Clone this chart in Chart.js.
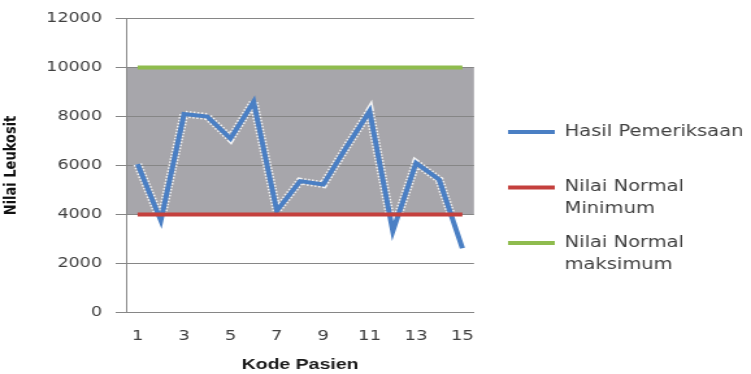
<!DOCTYPE html>
<html>
<head>
<meta charset="utf-8">
<script src="https://cdn.jsdelivr.net/npm/chart.js@4/dist/chart.umd.min.js"></script>
<style>
  html, body { margin: 0; padding: 0; background: #ffffff; }
</style>
</head>
<body>
<!-- drawn at a narrower size and widened to the page width -->
<canvas id="c" width="578" height="374" style="display:block;width:751px;height:374px;"></canvas>
<script>
// Kode pasien (x-axis categories)
const patientCodes = ['1', '2', '3', '4', '5', '6', '7', '8', '9', '10', '11', '12', '13', '14', '15'];

// Hasil pemeriksaan leukosit per pasien
const hasilPemeriksaan = [6050, 3750, 8100, 8000, 7100, 8600, 4150, 5360, 5220, 6750, 8220, 3320, 6100, 5420, 2620];

// Batas nilai normal
const nilaiNormalMin = [4000, 4000, 4000, 4000, 4000, 4000, 4000, 4000, 4000, 4000, 4000, 4000, 4000, 4000, 4000];
const nilaiNormalMax = [10000, 10000, 10000, 10000, 10000, 10000, 10000, 10000, 10000, 10000, 10000, 10000, 10000, 10000, 10000];

// Y-axis range and tick step
const yMin = 0;
const yMax = 12000;
const yStep = 2000;

const TEXT = '#404040';
const GRID = '#868686';
const LEGEND_WIDTH = 193.2;

// Shaded band between the normal minimum and maximum
const normalBand = {
  id: 'normalBand',
  beforeDraw(chart) {
    const { ctx, chartArea: a, scales: { y } } = chart;
    const top = y.getPixelForValue(nilaiNormalMax[0]);
    const bottom = y.getPixelForValue(nilaiNormalMin[0]);
    ctx.save();
    ctx.fillStyle = '#a7a6ab';
    ctx.fillRect(a.left, top, a.right - a.left, bottom - top);
    ctx.restore();
  }
};

// Let the right-hand legend column take its full width
const wideLegend = {
  id: 'wideLegend',
  beforeLayout(chart) {
    const lg = chart.legend;
    if (lg && !lg._wideFit) {
      const fit = lg.fit;
      lg.fit = function () {
        fit.call(this);
        this.width = LEGEND_WIDTH;
      };
      lg._wideFit = true;
    }
  }
};

const lineBase = { pointRadius: 0, pointHoverRadius: 0, tension: 0, fill: false };

new Chart(document.getElementById('c'), {
  type: 'line',
  data: {
    labels: patientCodes,
    datasets: [
      Object.assign({}, lineBase, {
        label: ['Hasil Pemeriksaan', ''],
        data: hasilPemeriksaan,
        borderColor: '#4a7fc4',
        backgroundColor: '#4a7fc4',
        borderWidth: 4,
        order: 3
      }),
      Object.assign({}, lineBase, {
        label: ['Nilai Normal', 'Minimum'],
        data: nilaiNormalMin,
        borderColor: '#c4403d',
        backgroundColor: '#c4403d',
        borderWidth: 4,
        order: 1
      }),
      Object.assign({}, lineBase, {
        label: ['Nilai Normal', 'maksimum'],
        data: nilaiNormalMax,
        borderColor: '#8fbc4e',
        backgroundColor: '#8fbc4e',
        borderWidth: 4,
        order: 2
      }),
      // light dotted edge under the result line
      Object.assign({}, lineBase, {
        label: '',
        data: hasilPemeriksaan,
        borderColor: 'rgba(255,255,255,0.85)',
        backgroundColor: 'rgba(255,255,255,0.85)',
        borderWidth: 7,
        borderDash: [1.5, 1.5],
        order: 4
      })
    ]
  },
  options: {
    responsive: false,
    animation: false,
    devicePixelRatio: 1,
    events: [],
    layout: { padding: { left: 0, top: 17.5, right: 5.3, bottom: 0 } },
    scales: {
      x: {
        type: 'category',
        offset: true,
        grid: { display: false, drawTicks: false },
        border: { display: true, color: GRID, width: 1 },
        ticks: {
          autoSkip: false,
          maxRotation: 0,
          padding: 16,
          color: TEXT,
          font: { family: 'DejaVu Sans', size: 14 },
          callback: (v, i) => (i % 2 === 0 ? patientCodes[i] : '')
        },
        title: {
          display: true,
          text: 'Kode Pasien',
          color: '#1a1a1a',
          font: { family: 'Liberation Sans', weight: 'bold', size: 15 },
          padding: { top: 11, bottom: 0 }
        },
        afterFit(s) { s.height = 61.7; }
      },
      y: {
        min: yMin,
        max: yMax,
        grid: { color: GRID, lineWidth: 1, drawTicks: true, tickLength: 8 },
        border: { display: true, color: GRID, width: 1 },
        ticks: {
          stepSize: yStep,
          padding: 10.5,
          color: TEXT,
          font: { family: 'DejaVu Sans', size: 13.5 },
          callback: (v) => String(v)
        },
        title: {
          display: true,
          text: 'Nilai Leukosit',
          color: '#111111',
          font: { family: 'DejaVu Sans', weight: 'bold', size: 13 },
          padding: { top: 1, bottom: 0 }
        },
        afterFit(s) { s.width = 97; }
      },
      gap: {
        type: 'linear',
        position: 'right',
        display: true,
        grid: { display: false },
        border: { display: false },
        ticks: { display: false },
        afterFit(s) { s.width = 14.7; }
      }
    },
    plugins: {
      tooltip: { enabled: false },
      legend: {
        position: 'right',
        align: 'center',
        title: { display: true, text: '', padding: 0, font: { size: 10, lineHeight: 1.25 } },
        labels: {
          boxWidth: 36,
          boxHeight: 4,
          padding: 11.5,
          color: TEXT,
          font: { family: 'DejaVu Sans', size: 15, lineHeight: '22px' },
          filter: (item) => item.datasetIndex !== 3,
          sort: (a, b) => a.datasetIndex - b.datasetIndex,
          generateLabels: (chart) =>
            Chart.defaults.plugins.legend.labels.generateLabels(chart).map((l) =>
              Object.assign(l, { lineWidth: 0, fillStyle: l.strokeStyle }))
        }
      }
    }
  },
  plugins: [normalBand, wideLegend]
});
</script>
</body>
</html>
